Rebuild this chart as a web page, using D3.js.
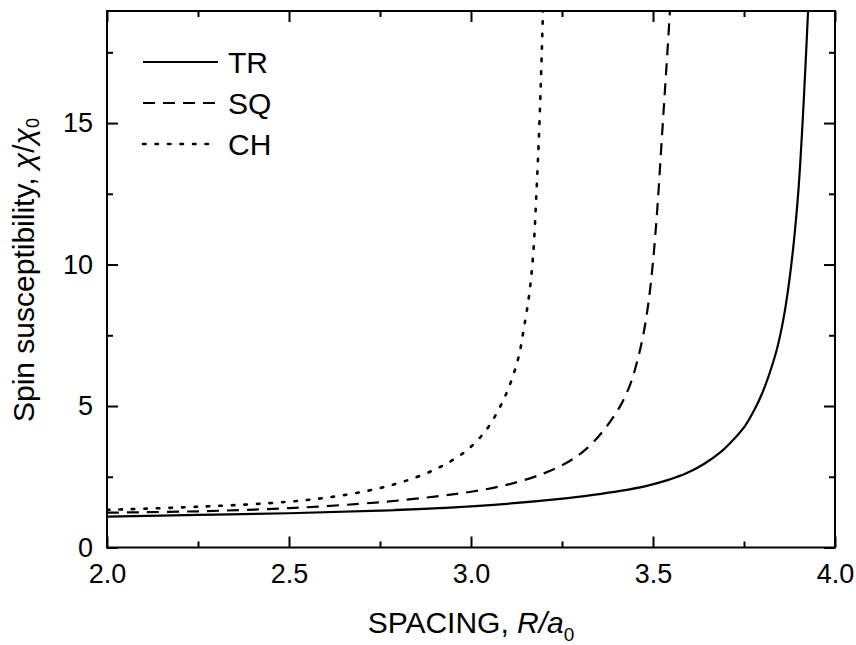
<!DOCTYPE html>
<html lang="en">
<head>
<meta charset="utf-8">
<title>Spin susceptibility</title>
<script src="https://d3js.org/d3.v7.min.js"></script>
<style>
  body { margin: 0; background: #fff; }
  text { font-family: Arial, "Liberation Sans", sans-serif; fill: #000; }
</style>
</head>
<body>
<script>
"use strict";

// values (R/a0, chi/chi0)
let trR   = [2.0, 2.25, 2.5, 2.75, 3.0, 3.245, 3.336, 3.41, 3.483, 3.54, 3.593, 3.64, 3.684, 3.72, 3.753, 3.78, 3.80, 3.82, 3.84, 3.855, 3.867, 3.88, 3.89, 3.90, 3.91, 3.918, 3.926, 3.935];
let trChi = [1.09, 1.15, 1.21, 1.30, 1.45, 1.72, 1.86, 2.0, 2.18, 2.38, 2.63, 2.95, 3.35, 3.80, 4.30, 4.90, 5.45, 6.15, 6.99, 7.85, 8.75, 10.0, 11.2, 12.7, 14.8, 16.8, 18.96, 22.5];

let sqR   = [2.0, 2.25, 2.5, 2.75, 2.9, 3.0, 3.1, 3.2, 3.27, 3.32, 3.368, 3.409, 3.437, 3.457, 3.473, 3.487, 3.50, 3.512, 3.522, 3.532, 3.541, 3.548, 3.553];
let sqChi = [1.23, 1.28, 1.39, 1.60, 1.80, 1.97, 2.22, 2.62, 3.05, 3.52, 4.2, 4.98, 5.75, 6.6, 7.5, 8.6, 10.1, 12.0, 14.0, 16.0, 17.8, 19.3, 20.5];

let chR   = [2.0, 2.25, 2.5, 2.65, 2.786, 2.9, 2.98, 3.02, 3.05, 3.075, 3.095, 3.115, 3.132, 3.146, 3.16, 3.171, 3.18, 3.188, 3.197, 3.201];
let chChi = [1.33, 1.44, 1.62, 1.85, 2.22, 2.75, 3.35, 3.82, 4.3, 4.85, 5.38, 6.05, 6.8, 7.8, 8.95, 10.4, 12.6, 15.0, 18.6, 20.5];

let seriesNames = ["TR", "SQ", "CH"];
let xMajor = [2.0, 2.5, 3.0, 3.5, 4.0];
let xMinor = [2.25, 2.75, 3.25, 3.75];
let yMajor = [0, 5, 10, 15];
let yMinor = [2.5, 7.5, 12.5, 17.5];

let w = 856, h = 645;
let pLeft = 107, pRight = 835, pTop = 11, pBottom = 547.5;

let x = d3.scaleLinear().domain([2, 4]).range([pLeft, pRight]);
let y = d3.scaleLinear().domain([0, 18.96]).range([pBottom, pTop]);

let svg = d3.select("body").append("svg")
    .attr("width", w)
    .attr("height", h);

svg.append("defs").append("clipPath").attr("id", "plot")
  .append("rect")
    .attr("x", pLeft).attr("y", pTop)
    .attr("width", pRight - pLeft).attr("height", pBottom - pTop);

// curves
let series = [
  {name: seriesNames[0], r: trR, c: trChi, dash: null},
  {name: seriesNames[1], r: sqR, c: sqChi, dash: "12,8"},
  {name: seriesNames[2], r: chR, c: chChi, dash: "2.5,10"}
];

let line = d3.line()
    .x(function(d) { return x(d[0]); })
    .y(function(d) { return y(d[1]); })
    .curve(d3.curveCatmullRom.alpha(0.5));

function strokeW(s) { return s.dash === "2.5,10" ? 2.6 : 2.2; }
function cap(s) { return s.dash === "2.5,10" ? "round" : "butt"; }

svg.append("g").attr("clip-path", "url(#plot)")
  .selectAll("path")
  .data(series)
  .enter()
  .append("path")
    .attr("d", function(s) { return line(d3.zip(s.r, s.c)); })
    .attr("fill", "none")
    .attr("stroke", "#000")
    .attr("stroke-width", strokeW)
    .attr("stroke-dasharray", function(s) { return s.dash; })
    .attr("stroke-linecap", cap);

// axes, ticks pointing inward
function styleAxis(g) {
  g.select(".domain").remove();
  g.selectAll("line").attr("stroke", "#000").attr("stroke-width", 2);
  g.selectAll("text").attr("font-size", 27).style("font-family", "Arial, 'Liberation Sans', sans-serif");
}

svg.append("g")
    .attr("transform", "translate(0," + pBottom + ")")
    .call(d3.axisBottom(x).tickValues(xMajor).tickSize(-11).tickPadding(16)
          .tickFormat(d3.format(".1f")))
    .call(styleAxis);
svg.append("g")
    .attr("transform", "translate(0," + pBottom + ")")
    .call(d3.axisBottom(x).tickValues(xMinor).tickSize(-6).tickFormat(""))
    .call(styleAxis);
svg.append("g")
    .attr("transform", "translate(0," + pTop + ")")
    .call(d3.axisTop(x).tickValues(xMajor).tickSize(-11).tickFormat(""))
    .call(styleAxis);
svg.append("g")
    .attr("transform", "translate(0," + pTop + ")")
    .call(d3.axisTop(x).tickValues(xMinor).tickSize(-6).tickFormat(""))
    .call(styleAxis);

svg.append("g")
    .attr("transform", "translate(" + pLeft + ",0)")
    .call(d3.axisLeft(y).tickValues(yMajor).tickSize(-11).tickPadding(14))
    .call(styleAxis);
svg.append("g")
    .attr("transform", "translate(" + pLeft + ",0)")
    .call(d3.axisLeft(y).tickValues(yMinor).tickSize(-6).tickFormat(""))
    .call(styleAxis);
svg.append("g")
    .attr("transform", "translate(" + pRight + ",0)")
    .call(d3.axisRight(y).tickValues(yMajor).tickSize(-11).tickFormat(""))
    .call(styleAxis);
svg.append("g")
    .attr("transform", "translate(" + pRight + ",0)")
    .call(d3.axisRight(y).tickValues(yMinor).tickSize(-6).tickFormat(""))
    .call(styleAxis);

// frame
svg.append("rect")
    .attr("x", pLeft).attr("y", pTop)
    .attr("width", pRight - pLeft).attr("height", pBottom - pTop)
    .attr("fill", "none")
    .attr("stroke", "#000")
    .attr("stroke-width", 2);

// legend
let leg = svg.append("g").selectAll("g")
    .data(series)
    .enter()
    .append("g")
    .attr("transform", function(d, i) { return "translate(143," + (62 + i * 41) + ")"; });
leg.append("line")
    .attr("x1", 0).attr("x2", 75)
    .attr("stroke", "#000")
    .attr("stroke-width", strokeW)
    .attr("stroke-dasharray", function(s) { return s.dash; })
    .attr("stroke-linecap", cap);
leg.append("text")
    .attr("x", 85)
    .attr("dy", "0.36em")
    .attr("font-size", 30)
    .text(function(d) { return d.name; });

// axis titles
let xt = svg.append("text")
    .attr("x", (pLeft + pRight) / 2)
    .attr("y", 633)
    .attr("text-anchor", "middle")
    .attr("font-size", 30);
xt.append("tspan").text("SPACING, ");
xt.append("tspan").attr("font-style", "italic").text("R/a");
xt.append("tspan").attr("font-size", 19).attr("dy", 8).text("0");

let yt = svg.append("text")
    .attr("transform", "translate(34,270) rotate(-90)")
    .attr("text-anchor", "middle")
    .attr("font-size", 30);
yt.append("tspan").text("Spin susceptibility, ");
yt.append("tspan").attr("font-style", "italic").text("\u03C7");
yt.append("tspan").text("/");
yt.append("tspan").attr("font-style", "italic").text("\u03C7");
yt.append("tspan").attr("font-size", 18).attr("dy", 5).text("0");
</script>
</body>
</html>
